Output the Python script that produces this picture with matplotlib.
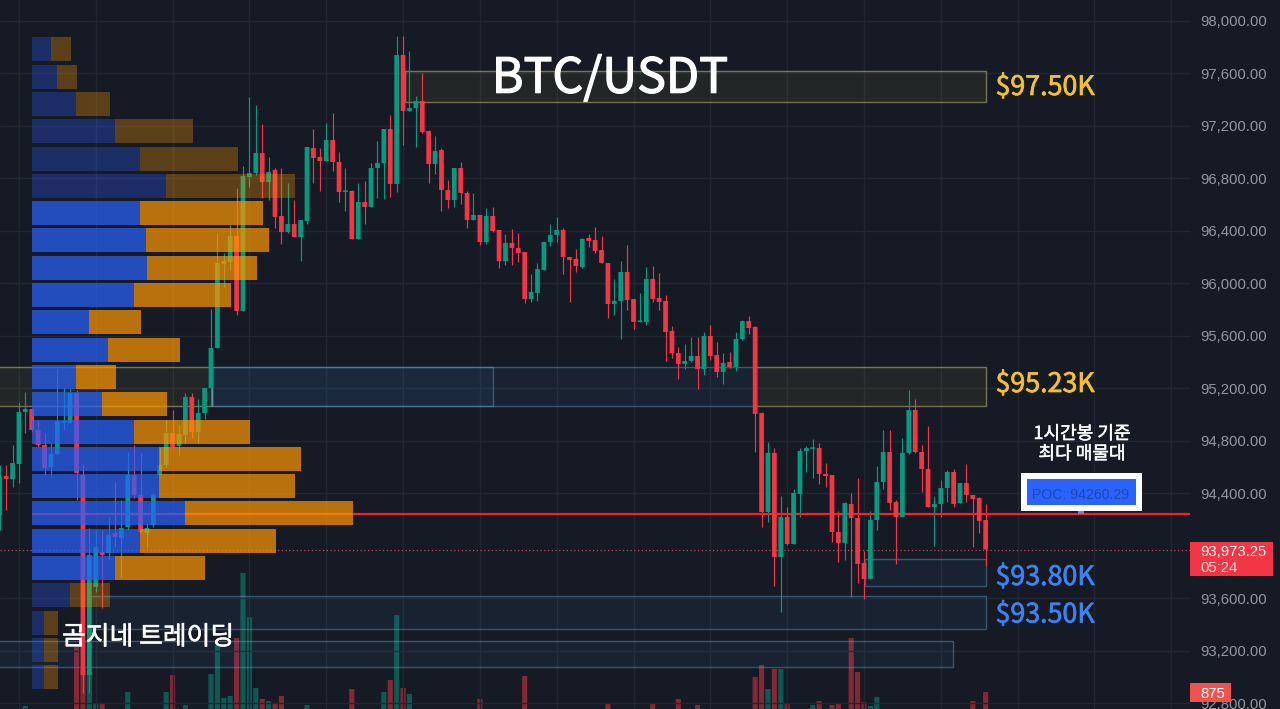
"""BTC/USDT 1h chart with a volume profile, supply/demand zones and POC line."""

import matplotlib
matplotlib.use("Agg")

import matplotlib.patheffects as pe
import matplotlib.pyplot as plt
from matplotlib.patches import Rectangle
import numpy as np


BG = "#161a25"
GRID = "#212633"
UP = "#089981"
DOWN = "#f23645"
TICK = "#94979f"
KR_FONT = ["Noto Sans CJK KR", "DejaVu Sans"]

WIDTH, HEIGHT = 1280, 709

# one hour candles, left to right
OPENS = [
    94236, 94533, 94510, 94625, 95021, 95044, 94884, 94770, 94602, 94701,
    94937, 94937, 95166, 94541, 93017, 93688, 93954, 93947, 94099, 94061,
    94145, 94541, 94389, 94099, 94160, 94541, 94617, 94861, 94762, 94846,
    95135, 94869, 95013, 95204, 95509, 96150, 96164, 96362, 95790, 96811,
    96842, 96994, 96773, 96865, 96514, 96392, 96453, 96354, 96476, 97032,
    96964, 96933, 97093, 96926, 96697, 96705, 96339, 96621, 96583, 96880,
    96918, 97177, 96758, 97741, 97314, 97337, 97390, 97162, 96910, 97017,
    96712, 96636, 96880, 96690, 96484, 96522, 96316, 96514, 96408, 96171,
    96309, 96270, 96240, 95882, 95928, 96103, 96316, 96370, 96408, 96202,
    96187, 96126, 96347, 96331, 96255, 96156, 95844, 95867, 96088, 95882,
    95707, 95707, 96034, 95890, 95867, 95638, 95470, 95387, 95410, 95448,
    95349, 95600, 95455, 95326, 95402, 95364, 95577, 95714, 95669, 95013,
    94259, 94709, 93916, 94221, 94015, 94396, 94724, 94740, 94747, 94549,
    94541, 94107, 94023, 94320, 94213, 93871, 93749, 94198, 94488, 94716,
    94335, 94221, 94709, 95036, 94716, 94587, 94297, 94320, 94442, 94564,
    94328, 94480, 94389, 94366, 94198,
]
CLOSES = [
    94526, 94510, 94632, 95021, 95044, 94884, 94770, 94594, 94701, 94952,
    94952, 95166, 94556, 93017, 93931, 93992, 93931, 94084, 94069, 94137,
    94541, 94389, 94107, 94137, 94389, 94617, 94861, 94754, 94853, 95135,
    94869, 95013, 95204, 95509, 96156, 96170, 96362, 95790, 96819, 96842,
    96994, 96773, 96850, 96507, 96392, 96453, 96354, 96484, 97040, 96956,
    96933, 97093, 96926, 96697, 96705, 96339, 96621, 96583, 96880, 96918,
    97177, 96758, 97741, 97314, 97337, 97390, 97154, 96910, 97010, 96712,
    96636, 96880, 96690, 96484, 96522, 96316, 96514, 96400, 96171, 96309,
    96270, 96232, 95882, 95935, 96110, 96316, 96370, 96408, 96202, 96179,
    96133, 96339, 96324, 96248, 96156, 95844, 95867, 96088, 95874, 95707,
    95714, 96034, 95882, 95859, 95630, 95470, 95387, 95410, 95448, 95349,
    95600, 95448, 95326, 95394, 95364, 95577, 95714, 95661, 95006, 94259,
    94709, 93916, 94221, 94015, 94404, 94724, 94747, 94747, 94549, 94533,
    94107, 94023, 94328, 94213, 93863, 93749, 94198, 94488, 94716, 94328,
    94221, 94709, 95036, 94716, 94587, 94297, 94320, 94442, 94564, 94320,
    94480, 94389, 94358, 94191, 93973.25,
]
HIGHS = [
    94617, 94617, 94770, 95097, 95173, 95051, 94960, 94861, 94785, 95356,
    95204, 95204, 95189, 94625, 94137, 94122, 94122, 94221, 94488, 94351,
    94716, 94770, 94709, 94175, 94404, 94747, 94960, 95036, 94922, 95166,
    95166, 95120, 95204, 95806, 96385, 96232, 96446, 96728, 96895, 97421,
    97360, 97215, 96964, 96880, 96880, 96766, 96636, 96484, 97040, 97177,
    97032, 97223, 97299, 97002, 96880, 96712, 96766, 96781, 96918, 97086,
    97177, 97284, 97886, 97886, 97771, 97429, 97604, 97170, 97124, 97032,
    96789, 96880, 96926, 96705, 96690, 96522, 96575, 96583, 96408, 96377,
    96415, 96385, 96240, 96072, 96156, 96316, 96453, 96507, 96423, 96202,
    96263, 96347, 96377, 96430, 96362, 96156, 96034, 96171, 96293, 95882,
    95928, 96126, 96133, 96080, 95912, 95676, 95516, 95539, 95592, 95592,
    95630, 95684, 95554, 95470, 95478, 95630, 95722, 95752, 95676, 95021,
    94792, 94747, 94381, 94297, 94434, 94747, 94762, 94815, 94785, 94632,
    94541, 94267, 94335, 94404, 94518, 93962, 94267, 94609, 94884, 94884,
    94351, 94823, 95189, 95120, 94770, 94914, 94381, 94503, 94579, 94587,
    94480, 94625, 94389, 94373, 94320,
]
LOWS = [
    94122, 94274, 94450, 94480, 94861, 94869, 94754, 94541, 94526, 94693,
    94884, 94937, 94351, 92880, 92880, 93650, 93528, 93893, 93992, 93764,
    94122, 94366, 94099, 93985, 94145, 94541, 94602, 94747, 94693, 94785,
    94823, 94785, 94968, 95074, 95509, 95973, 96103, 95760, 95790, 96735,
    96827, 96651, 96636, 96423, 96301, 96385, 96354, 96171, 96453, 96766,
    96705, 96933, 96857, 96621, 96552, 96339, 96339, 96453, 96583, 96651,
    96644, 96659, 96697, 97055, 97314, 97040, 97147, 96766, 96834, 96552,
    96575, 96583, 96606, 96423, 96484, 96293, 96301, 96392, 96118, 96141,
    96141, 96164, 95851, 95859, 95867, 96103, 96286, 96316, 96072, 95859,
    96088, 96118, 96278, 96232, 96156, 95737, 95760, 95577, 95798, 95653,
    95707, 95684, 95859, 95798, 95410, 95432, 95272, 95349, 95402, 95196,
    95303, 95417, 95288, 95234, 95356, 95333, 95569, 95615, 94716, 94145,
    94183, 93695, 93497, 94008, 94015, 94221, 94564, 94518, 94472, 94450,
    94031, 93878, 93893, 93611, 93718, 93596, 93749, 94122, 94434, 94274,
    93863, 94221, 94701, 94709, 94411, 94297, 94000, 94221, 94335, 94297,
    94328, 94335, 93992, 94099, 93848,
]

# only the bars tall enough to show at the bottom of the chart
VOLUME_INDEX = [
    4, 12, 13, 14, 15, 16, 20, 26, 27, 29, 33, 34, 35, 36, 37, 38, 39, 40,
    41, 42, 43, 44, 48, 55, 60, 61, 62, 63, 64, 75, 82, 95, 102, 106, 109,
    118, 119, 120, 121, 122, 123, 127, 128, 130, 131, 133, 134, 135, 136,
    137, 152, 154,
]
VOLUME_VALUES = [
    262, 2844, 1900, 1750, 394, 350, 875, 875, 1619, 306, 1662, 2931, 612,
    700, 3237, 6081, 4156, 1050, 569, 481, 394, 700, 306, 1006, 875, 1400,
    4244, 1050, 787, 569, 1575, 350, 350, 569, 306, 1531, 2056, 1006, 1881,
    1881, 394, 306, 481, 306, 350, 3237, 1750, 437, 262, 656, 481, 875,
]

# volume profile rows, top to bottom
PROFILE_LEVELS = [
    97784, 97576, 97368, 97160, 96952, 96744, 96536, 96328, 96120, 95912,
    95704, 95496, 95288, 95080, 94872, 94664, 94456, 94248, 94040, 93832,
    93624, 93416, 93208, 93000,
]
PROFILE_BUY = [
    19, 25.3, 44.3, 83, 108.3, 134, 108.3, 114.3, 114.7, 101.7, 56.7, 76.3,
    44, 69.7, 101.7, 127.3, 127.3, 153, 108.3, 83, 38, 12.3, 12.3, 12.3,
]
PROFILE_SELL = [
    20, 19.7, 33.4, 77.7, 97.4, 129, 123, 123, 110, 97, 52.6, 71.7,
    40, 65.3, 116.6, 141.7, 135.7, 167.7, 135.4, 90, 39.7, 14, 14, 14,
]
PROFILE_IN_VALUE_AREA = [
    False, False, False, False, False, False, True, True, True, True, True,
    True, True, True, True, True, True, True, True, True, False, False,
    False, False,
]

PRICE_TICKS = [
    98000, 97600, 97200, 96800, 96400, 96000, 95600, 95200, 94800, 94400,
    93600, 93200, 92800,
]

POC_PRICE = 94247
LAST_PRICE = 93973.25


def px_to_index(px):
    # candle slots are 6.402 px wide on the screenshot
    return (px + 0.27) / 6.402


def heavier(width):
    return [pe.withStroke(linewidth=width, foreground="white")]


def draw_grid(ax):
    right = px_to_index(1190)
    ax.hlines(PRICE_TICKS, 0, right, color=GRID, linewidth=1, zorder=0)
    ax.vlines(np.arange(3, 190, 12), 92000, 99000, color=GRID, linewidth=1, zorder=0)


def draw_zone(ax, x0, x1, low, high, fill, edge, alpha=0.06):
    ax.add_patch(Rectangle((x0, low), x1 - x0, high - low, facecolor=fill,
                           alpha=alpha, linewidth=0, zorder=1))
    ax.add_patch(Rectangle((x0, low), x1 - x0, high - low, fill=False,
                           edgecolor=edge, alpha=0.45, linewidth=1, zorder=1.1))


def draw_zones(ax):
    yellow, yellow_edge = "#ffeb3b", "#e8dc90"
    blue, blue_edge = "#42a5f5", "#5f9ec7"
    end = px_to_index(986)
    draw_zone(ax, px_to_index(405), end, 97380, 97622, yellow, yellow_edge, 0.06)
    draw_zone(ax, -2, px_to_index(212), 95070, 95367, yellow, yellow_edge, 0.06)
    draw_zone(ax, px_to_index(755), end, 95070, 95367, yellow, yellow_edge, 0.06)
    draw_zone(ax, px_to_index(212), px_to_index(755), 95070, 95367, blue, blue_edge)
    draw_zone(ax, px_to_index(212), px_to_index(493), 95070, 95367, blue, blue_edge)
    draw_zone(ax, px_to_index(865), end, 93695, 93900, blue, blue_edge)
    draw_zone(ax, px_to_index(90), end, 93368, 93618, blue, blue_edge)
    draw_zone(ax, -2, px_to_index(953), 93078, 93276, blue, blue_edge)


def draw_candles(ax):
    opens = np.array(OPENS)
    closes = np.array(CLOSES)
    idx = np.arange(len(opens))
    colors = [UP if c >= o else DOWN for o, c in zip(opens, closes)]
    ax.vlines(idx, LOWS, HIGHS, color=colors, linewidth=0.85, zorder=2)
    heights = np.maximum(np.abs(closes - opens), 12)
    bars = ax.bar(idx, heights, bottom=np.minimum(opens, closes), width=0.74,
                  color=colors, linewidth=0, zorder=3)
    # keep every body the same width instead of rounding to whole pixels
    for bar in bars:
        bar.set_snap(False)


def draw_volume(ax):
    colors = [UP if CLOSES[i] >= OPENS[i] else DOWN for i in VOLUME_INDEX]
    bars = ax.bar(VOLUME_INDEX, VOLUME_VALUES, width=0.8, color=colors, alpha=0.5,
                  linewidth=0)
    for bar in bars:
        bar.set_snap(False)
    ax.set_ylim(131, 31150)


def draw_profile(ax):
    # x axis here is raw profile volume, zero at the profile's left edge
    alphas = [0.7 if v else 0.3 for v in PROFILE_IN_VALUE_AREA]
    for level, buy, sell, a in zip(PROFILE_LEVELS, PROFILE_BUY, PROFILE_SELL, alphas):
        ax.barh(level, buy, height=183, color="#2962ff", alpha=a, linewidth=0)
        ax.barh(level, sell, left=buy, height=183, color="#ff9800", alpha=a, linewidth=0)
    ax.set_xlim(-32, WIDTH - 32)


def draw_price_axis(ax):
    trans = ax.get_yaxis_transform()
    for p in PRICE_TICKS:
        ax.text(1200 / WIDTH, p, f"{p:,.2f}", transform=trans, color=TICK,
                fontsize=10.7, family="Liberation Sans", va="center_baseline",
                ha="left", zorder=1)


def draw_annotations(ax):
    """Overlay in screenshot pixels: tags, callouts and the hand-placed text."""
    ax.add_patch(Rectangle((1190, 542), 83, 34, facecolor=DOWN, linewidth=0))
    ax.text(1200, 550.5, f"{LAST_PRICE:,.2f}", color="white", fontsize=10.7,
            family="Liberation Sans", va="center_baseline")
    ax.text(1200, 566, "05:24", color="#f5d5d8", fontsize=10.7,
            family="Liberation Sans", va="center_baseline")
    ax.add_patch(Rectangle((1190, 683), 41, 19, facecolor="#ef5350", linewidth=0))
    ax.text(1200, 692.5, "875", color="white", fontsize=10.7,
            family="Liberation Sans", va="center_baseline")

    ax.add_patch(Rectangle((1021, 473), 121, 38, facecolor="white", linewidth=0))
    ax.add_patch(Rectangle((1027, 479), 109, 26, facecolor="#2962ff", linewidth=0))
    ax.text(1081, 493.5, "POC: 94260.29", color="#1e4aa8", fontsize=10.2,
            family="Liberation Sans", ha="center", va="center_baseline")
    ax.add_patch(Rectangle((1078, 511), 6, 2.5, facecolor="#6f86b8", linewidth=0))

    ax.text(1082, 434, "1시간봉 기준", color="white", fontsize=13, family=KR_FONT,
            ha="center", va="center", path_effects=heavier(0.35))
    ax.text(1082, 454, "최다 매물대", color="white", fontsize=13, family=KR_FONT,
            ha="center", va="center", path_effects=heavier(0.35))

    ax.text(610, 92.7, "BTC/USDT", color="white", fontsize=34.8, family=KR_FONT,
            ha="center", va="baseline", path_effects=heavier(0.9))
    ax.text(148, 637, "곰지네 트레이딩", color="white", fontsize=18.6, family=KR_FONT,
            ha="center", va="center", path_effects=heavier(0.4))

    gold, blue = "#f4c02f", "#3d82ee"
    for label, y, color in [("$97.50K", 95, gold), ("$95.23K", 392, gold),
                            ("$93.80K", 585, blue), ("$93.50K", 622.5, blue)]:
        ax.text(995.5, y, label, color=color, fontsize=19.3, family=KR_FONT,
                ha="left", va="baseline",
                path_effects=[pe.withStroke(linewidth=0.5, foreground=color)])


def main():
    fig = plt.figure(figsize=(WIDTH / 100, HEIGHT / 100), dpi=100, facecolor=BG)

    ax = fig.add_axes([0, 0, 1, 1], facecolor="none", zorder=2)
    ax.set_xlim(px_to_index(0), px_to_index(WIDTH))
    ax.set_ylim(92758, 98160)

    ax_vol = ax.twinx()
    ax_vol.set_zorder(1)
    ax_vol.set_facecolor(BG)
    ax_vol.patch.set_visible(True)

    ax_profile = fig.add_axes([0, 0, 1, 1], facecolor="none", zorder=3)
    ax_profile.set_ylim(92758, 98160)

    ax_notes = fig.add_axes([0, 0, 1, 1], facecolor="none", zorder=4)
    ax_notes.set_xlim(0, WIDTH)
    ax_notes.set_ylim(HEIGHT, 0)

    draw_volume(ax_vol)
    draw_grid(ax)
    draw_zones(ax)
    draw_candles(ax)
    ax.hlines(POC_PRICE, px_to_index(32), px_to_index(1190), color="#f2222c",
              linewidth=1.6, zorder=2.5)
    ax.hlines(LAST_PRICE, 0, px_to_index(1190), color="#b0505c", linewidth=0.9,
              linestyles=(0, (1, 2)), zorder=1.5)
    ax.set_xlim(px_to_index(0), px_to_index(WIDTH))
    ax.set_ylim(92758, 98160)
    draw_price_axis(ax)
    draw_profile(ax_profile)
    ax_profile.set_ylim(92758, 98160)
    draw_annotations(ax_notes)

    for a in (ax, ax_vol, ax_profile, ax_notes):
        a.set_xticks([])
        a.set_yticks([])
        for spine in a.spines.values():
            spine.set_visible(False)

    fig.savefig("out.png", dpi=100, facecolor=BG)


if __name__ == "__main__":
    main()
